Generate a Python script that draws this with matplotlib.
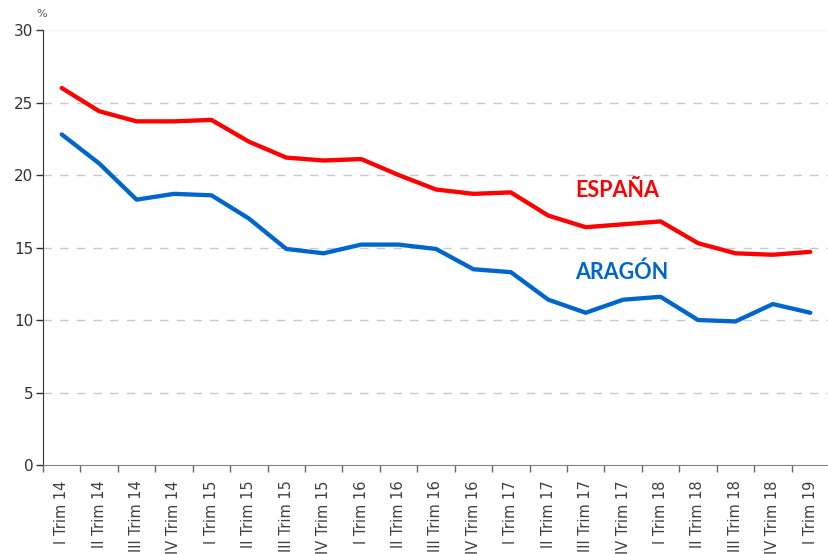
import numpy as np
import matplotlib.pyplot as plt

# trimestres
quarters = ['I Trim 14', 'II Trim 14', 'III Trim 14', 'IV Trim 14',
            'I Trim 15', 'II Trim 15', 'III Trim 15', 'IV Trim 15',
            'I Trim 16', 'II Trim 16', 'III Trim 16', 'IV Trim 16',
            'I Trim 17', 'II Trim 17', 'III Trim 17', 'IV Trim 17',
            'I Trim 18', 'II Trim 18', 'III Trim 18', 'IV Trim 18',
            'I Trim 19']

espana = [26.0, 24.4, 23.7, 23.7, 23.8, 22.3, 21.2, 21.0, 21.1, 20.0, 19.0,
          18.7, 18.8, 17.2, 16.4, 16.6, 16.8, 15.3, 14.6, 14.5, 14.7]
aragon = [22.8, 20.8, 18.3, 18.7, 18.6, 17.0, 14.9, 14.6, 15.2, 15.2, 14.9,
          13.5, 13.3, 11.4, 10.5, 11.4, 11.6, 10.0, 9.9, 11.1, 10.5]

yticks = [0, 5, 10, 15, 20, 25, 30]

red = '#ff0000'
blue = '#0066cc'

fig = plt.figure(figsize=(8.29, 5.54), dpi=100)
ax = fig.add_axes([43/829, 1 - 465/554, 1 - 43/829, (465 - 30)/554])

x = np.arange(len(quarters))
ax.plot(x, espana, color=red, lw=3.1, solid_capstyle='round', zorder=3)
ax.plot(x, aragon, color=blue, lw=3.1, solid_capstyle='round', zorder=3)

ax.text(14.85, 18.9, 'ESPAÑA', color=red, fontsize=15.5, fontweight='bold',
        family='Lato', ha='center', va='center')
ax.text(14.95, 13.3, 'ARAGÓN', color=blue, fontsize=15.5, fontweight='bold',
        family='Lato', ha='center', va='center')

ax.set_xlim(-0.5, 20.3)
ax.set_ylim(0, 30)

# grid
for v in yticks[1:-1]:
    ax.axhline(v, color='#c8c8c8', lw=1, ls=(0, (6, 6)), zorder=1)
ax.axhline(30, color='#ececf2', lw=1.2, zorder=1)

ax.set_yticks(yticks)
ax.tick_params(axis='y', length=5, width=1, color='#333333',
               labelsize=11, labelcolor='#333333', pad=2)

ax.set_xticks(x)
ax.set_xticklabels(quarters, rotation=90, fontsize=10.5, color='#404040')
ax.tick_params(axis='x', which='major', length=0, pad=11)
ax.set_xticks(np.arange(len(quarters) + 1) - 0.5, minor=True)
ax.tick_params(axis='x', which='minor', length=5, width=1, color='#666666')

for s in ['top', 'right']:
    ax.spines[s].set_visible(False)
ax.spines['left'].set_color('#333333')
ax.spines['bottom'].set_color('#808080')

fig.text(42/829, 1 - 14/554, '%', fontsize=8, color='#555555',
         ha='center', va='center')

fig.savefig('out.png', dpi=100)
